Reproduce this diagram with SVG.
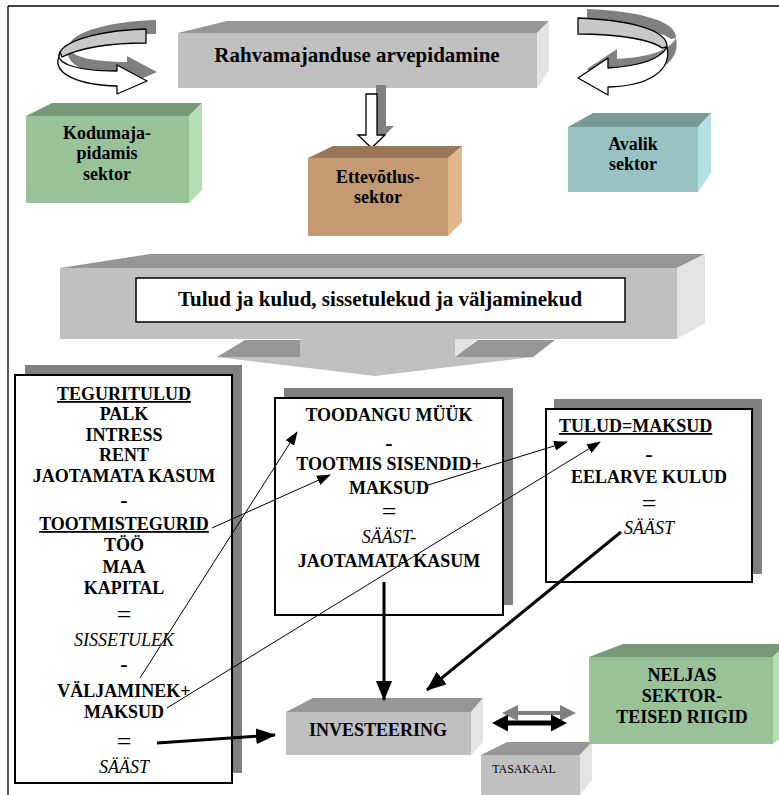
<svg xmlns="http://www.w3.org/2000/svg" width="779" height="795" viewBox="0 0 779 795">
  <style>
    text { font-family: "Liberation Serif", "Times New Roman", serif; fill: #000; text-anchor: middle; }
    .b { font-weight: bold; font-size: 18px; }
    .it { font-style: italic; font-size: 18px; }
    .eq { font-size: 26px; }
    .dash { font-weight: bold; font-size: 22px; }
    .u { text-decoration: underline; }
    .shadow { fill: #808080; }
    .card { fill: #fff; stroke: #000; stroke-width: 2; }
    .thin { stroke: #000; stroke-width: 1; fill: none; }
    .thick { stroke: #000; stroke-width: 3; fill: none; }
    .gray-front { fill: #c0c0c0; }
    .gray-top { fill: #969696; }
    .gray-side { fill: #e3e3e3; }
    .green-front { fill: #99c299; }
    .green-top { fill: #779977; }
    .green-side { fill: #b3e0b3; }
    .teal-front { fill: #99c2c2; }
    .teal-top { fill: #779999; }
    .teal-side { fill: #b3e0e0; }
    .tan-front { fill: #c49a73; }
    .tan-top { fill: #99775a; }
    .tan-side { fill: #e0b68a; }
    .ribbon { stroke: #000; stroke-width: 1.3; stroke-linejoin: round; }
  </style>
  <defs>
    <marker id="headThin" markerUnits="userSpaceOnUse" markerWidth="14" markerHeight="10" refX="13" refY="5" orient="auto">
      <path d="M0,0 L14,5 L0,10 Z" fill="#000"/>
    </marker>
    <marker id="headThick" markerUnits="userSpaceOnUse" markerWidth="20" markerHeight="16" refX="19" refY="8" orient="auto">
      <path d="M0,0 L20,8 L0,16 Z" fill="#000"/>
    </marker>
  </defs>

  <!-- page frame -->
  <g id="frame" stroke="#000" stroke-width="1.3">
    <line x1="8" y1="6" x2="779" y2="6"/>
    <line x1="8" y1="6" x2="8" y2="795"/>
  </g>

  <!-- circular arrow, left -->
  <g id="cycle-left">
    <g transform="translate(10,-9)" class="shadow">
      <path d="M146,29 C108,30 68,38 60,52 L62,57 C80,48 110,43 146,43 Z"/>
      <path d="M60,52 C54,62 72,71 117,71 L117,65 L147,81 L117,94 L117,86 C78,85 56,74 58,60 Z"/>
    </g>
    <path class="ribbon" fill="#c8c8c8" d="M146,29 C108,30 68,38 60,52 L62,57 C80,48 110,43 146,43 Z"/>
    <path class="ribbon" fill="#fff" d="M60,52 C54,62 72,71 117,71 L117,65 L147,81 L117,94 L117,86 C78,85 56,74 58,60 Z"/>
  </g>

  <!-- circular arrow, right -->
  <g id="cycle-right">
    <g transform="translate(9,-9)" class="shadow">
      <path d="M578,18 C630,20 668,30 667,47 L662,48 C652,40 620,34 578,34 Z"/>
      <path d="M667,47 C660,60 640,66 608,68 L608,58 L578,78 L608,95 L608,87 C650,86 672,70 667,47 Z"/>
    </g>
    <path class="ribbon" fill="#c8c8c8" d="M578,18 C630,20 668,30 667,47 L662,48 C652,40 620,34 578,34 Z"/>
    <path class="ribbon" fill="#fff" d="M667,47 C660,60 640,66 608,68 L608,58 L578,78 L608,95 L608,87 C650,86 672,70 667,47 Z"/>
  </g>

  <!-- national accounts header block -->
  <g id="accounts">
    <rect class="gray-front" x="178" y="33" width="359" height="55"/>
    <polygon class="gray-top" points="178,33 227,21 549,21 537,33"/>
    <polygon class="gray-side" points="537,33 549,21 549,70 537,88"/>
    <text class="b" style="font-size:21px" x="357" y="62">Rahvamajanduse arvepidamine</text>
  </g>

  <!-- hollow down arrow to the business sector -->
  <g id="down-arrow">
    <polygon class="shadow" points="376,85 386,85 386,126 394,126 382,138 370,126 376,126"/>
    <polygon fill="#fff" stroke="#000" stroke-width="1.3" points="366,94 377,94 377,135 385,135 371.5,148 358,135 366,135"/>
  </g>

  <!-- sector blocks -->
  <g id="households">
    <rect class="green-front" x="26" y="116" width="163" height="87"/>
    <polygon class="green-top" points="26,116 52,103 202,103 189,116"/>
    <polygon class="green-side" points="189,116 202,103 202,190 189,203"/>
    <text class="b" x="107" y="139">Kodumaja-</text>
    <text class="b" x="107" y="159">pidamis</text>
    <text class="b" x="107" y="180">sektor</text>
  </g>

  <g id="business">
    <rect class="tan-front" x="308" y="158" width="140" height="78"/>
    <polygon class="tan-top" points="308,158 333,146 462,146 448,158"/>
    <polygon class="tan-side" points="448,158 462,146 462,222 448,236"/>
    <text class="b" x="378" y="183">Ettevõtlus-</text>
    <text class="b" x="378" y="203">sektor</text>
  </g>

  <g id="public">
    <rect class="teal-front" x="568" y="127" width="130" height="65"/>
    <polygon class="teal-top" points="568,127 593,113 711,113 698,127"/>
    <polygon class="teal-side" points="698,127 711,113 711,173 698,192"/>
    <text class="b" x="633" y="150">Avalik</text>
    <text class="b" x="633" y="170">sektor</text>
  </g>

  <!-- income and expenditure banner with its down arrow -->
  <g id="flows">
    <rect class="gray-front" x="60" y="268" width="617" height="71"/>
    <polygon class="gray-top" points="60,268 150,254 705,254 677,268"/>
    <polygon class="gray-side" points="677,268 705,254 705,323 677,339"/>
    <rect class="gray-front" x="300" y="339" width="155" height="18"/>
    <polygon class="gray-top" points="217,357 300,357 300,340 245,340"/>
    <polygon class="gray-side" points="455,339 478,339 455,357"/>
    <polygon class="gray-top" points="455,357 533,357 555,340 478,340"/>
    <polygon class="gray-front" points="217,357 533,357 375,376"/>
    <rect x="136" y="278" width="489" height="44" fill="#fff" stroke="#000" stroke-width="1.5"/>
    <text class="b" style="font-size:21px" x="380" y="306">Tulud ja kulud, sissetulekud ja väljaminekud</text>
  </g>

  <!-- household account -->
  <g id="household-account">
    <rect class="shadow" x="25" y="365" width="217" height="408"/>
    <rect class="card" x="15" y="375" width="217" height="408"/>
    <text class="b u" x="124" y="400">TEGURITULUD</text>
    <text class="b" x="124" y="420">PALK</text>
    <text class="b" x="124" y="441">INTRESS</text>
    <text class="b" x="124" y="461">RENT</text>
    <text class="b" x="124" y="482">JAOTAMATA KASUM</text>
    <text class="dash" x="124" y="507">-</text>
    <text class="b u" x="124" y="530">TOOTMISTEGURID</text>
    <text class="b" x="124" y="551">TÖÖ</text>
    <text class="b" x="124" y="573">MAA</text>
    <text class="b" x="124" y="594">KAPITAL</text>
    <text class="eq" x="124" y="623">=</text>
    <text class="it" x="124" y="646">SISSETULEK</text>
    <text class="dash" x="124" y="671">-</text>
    <text class="b" x="124" y="697">VÄLJAMINEK+</text>
    <text class="b" x="124" y="718">MAKSUD</text>
    <text class="eq" x="124" y="750">=</text>
    <text class="it" x="124" y="773">SÄÄST</text>
  </g>

  <!-- business account -->
  <g id="business-account">
    <rect class="shadow" x="284" y="388" width="229" height="217"/>
    <rect class="card" x="275" y="398" width="228" height="217"/>
    <text class="b" x="389" y="421">TOODANGU MÜÜK</text>
    <text class="dash" x="389" y="450">-</text>
    <text class="b" x="389" y="470">TOOTMIS SISENDID+</text>
    <text class="b" x="389" y="494">MAKSUD</text>
    <text class="eq" x="389" y="520">=</text>
    <text class="it" x="389" y="543">SÄÄST-</text>
    <text class="b" x="389" y="567">JAOTAMATA KASUM</text>
  </g>

  <!-- government account -->
  <g id="government-account">
    <rect class="shadow" x="554" y="399" width="208" height="175"/>
    <rect class="card" x="546" y="409" width="206" height="173"/>
    <text class="b u" x="559" y="432" style="text-anchor:start">TULUD=MAKSUD</text>
    <text class="dash" x="649" y="461">-</text>
    <text class="b" x="649" y="483">EELARVE KULUD</text>
    <text class="eq" x="649" y="512">=</text>
    <text class="it" x="649" y="534">SÄÄST</text>
  </g>

  <!-- investment, balance and rest of the world -->
  <g id="investment">
    <rect class="gray-front" x="286" y="712" width="185" height="43"/>
    <polygon class="gray-top" points="286,712 313,698 483,698 471,712"/>
    <polygon class="gray-side" points="471,712 483,698 483,742 471,755"/>
    <text class="b" x="378" y="736">INVESTEERING</text>
  </g>

  <g id="balance">
    <rect class="gray-front" x="481" y="755" width="99" height="45"/>
    <polygon class="gray-top" points="481,755 507,742 592,742 580,755"/>
    <polygon class="gray-side" points="580,755 592,742 592,780 580,795"/>
    <text x="524" y="773" style="font-size:12px">TASAKAAL</text>
  </g>

  <g id="rest-of-world">
    <rect class="green-front" x="589" y="657" width="184" height="87"/>
    <polygon class="green-top" points="589,657 623,644 785,644 773,657"/>
    <polygon class="green-side" points="773,657 785,644 785,735 773,744"/>
    <text class="b" x="682" y="681">NELJAS</text>
    <text class="b" x="682" y="702">SEKTOR-</text>
    <text class="b" x="682" y="723">TEISED RIIGID</text>
  </g>

  <!-- connectors -->
  <g id="connectors">
    <line class="thin" x1="140" y1="678" x2="297" y2="432" marker-end="url(#headThin)"/>
    <line class="thin" x1="212" y1="528" x2="330" y2="475" marker-end="url(#headThin)"/>
    <line class="thin" x1="428" y1="485" x2="567" y2="442" marker-end="url(#headThin)"/>
    <line class="thin" x1="167" y1="708" x2="600" y2="442" marker-end="url(#headThin)"/>
    <line class="thick" x1="157" y1="743" x2="275" y2="735" marker-end="url(#headThick)"/>
    <line class="thick" x1="384" y1="582" x2="384" y2="700" marker-end="url(#headThick)"/>
    <line class="thick" x1="621" y1="532" x2="427" y2="690" marker-end="url(#headThick)"/>
    <!-- two-way exchange arrow with its drop shadow -->
    <polygon class="shadow" points="502,713 518,705 518,711 560,711 560,705 576,713 560,721 560,715 518,715 518,721"/>
    <polygon fill="#000" points="492,723 508,714.5 508,720.5 551,720.5 551,714.5 567,723 551,731.5 551,725.5 508,725.5 508,731.5"/>
  </g>
</svg>
